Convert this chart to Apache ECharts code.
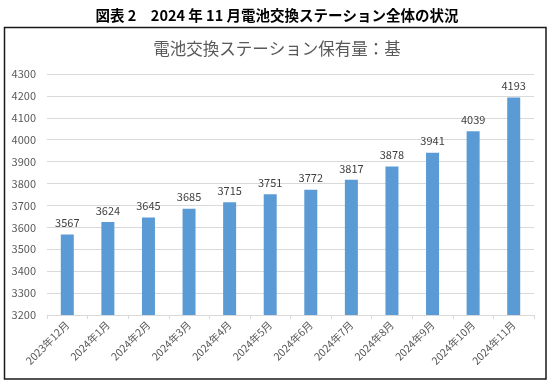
<!DOCTYPE html>
<html>
<head>
<meta charset="utf-8">
<script src="https://cdn.jsdelivr.net/npm/echarts@6/dist/echarts.min.js"></script>
<style>html,body{margin:0;padding:0;background:#fff}#c{width:554px;height:385px}</style>
</head>
<body>
<div id="c"></div>
<script>
const categories = ['2023年12月','2024年1月','2024年2月','2024年3月','2024年4月','2024年5月','2024年6月','2024年7月','2024年8月','2024年9月','2024年10月','2024年11月'];
const stations = [3567,3624,3645,3685,3715,3751,3772,3817,3878,3941,4039,4193];
const yMin = 3200, yMax = 4300, yStep = 100;
const outerTitle = '図表 2　2024 年 11 月電池交換ステーション全体の状況';
const innerTitle = '電池交換ステーション保有量：基';

const font = '"Noto Sans CJK JP", "Noto Sans", sans-serif';
const chart = echarts.init(document.getElementById('c'), null, {renderer:'canvas'});
chart.setOption({
  animation: false,
  backgroundColor: '#fff',
  title: [
    {text: outerTitle, left: 'center', top: 3, textStyle:{fontFamily: font, fontSize: 14.5, fontWeight:'bold', color:'#000'}},
    {text: innerTitle, left: 'center', top: 35, textStyle:{fontFamily: font, fontSize: 16.5, fontWeight:'normal', color:'#595959'}}
  ],
  graphic: [{type:'rect', shape:{x:4.5, y:27.5, width:541.5, height:351.5}, style:{fill:null, stroke:'#1a1a1a', lineWidth:1.5}, silent:true}],
  grid: {left: 47, right: 20, top: 74, bottom: 70},
  xAxis: {
    type:'category', data: categories,
    axisLine:{lineStyle:{color:'#d9d9d9'}},
    axisTick:{show:true, length:4, lineStyle:{color:'#d9d9d9'}},
    axisLabel:{rotate:45, fontSize:10.5, color:'#595959', fontFamily: font, margin:8, interval:0}
  },
  yAxis: {
    type:'value', min:yMin, max:yMax, interval:yStep,
    axisLine:{show:false}, axisTick:{show:false},
    splitLine:{lineStyle:{color:'#d9d9d9'}},
    axisLabel:{fontSize:11, color:'#595959', fontFamily: font, margin:11, formatter: v => String(v)}
  },
  series: [{
    type:'bar', data: stations, barWidth: 13,
    itemStyle:{color:'#5B9BD5'},
    label:{show:true, position:'top', distance:6, fontSize:11, color:'#404040', fontFamily: font}
  }]
});
</script>
</body>
</html>
